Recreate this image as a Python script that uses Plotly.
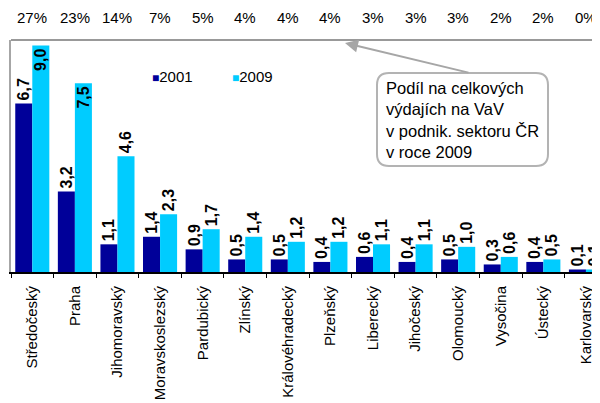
import plotly.graph_objects as go

categories = ["Středočeský", "Praha", "Jihomoravský", "Moravskoslezský", "Pardubický",
              "Zlínský", "Královéhradecký", "Plzeňský", "Liberecký", "Jihočeský",
              "Olomoucký", "Vysočina", "Ústecký", "Karlovarský"]
values_2001 = [6.7, 3.2, 1.1, 1.4, 0.9, 0.5, 0.5, 0.4, 0.6, 0.4, 0.5, 0.3, 0.4, 0.1]
values_2009 = [9.0, 7.5, 4.6, 2.3, 1.7, 1.4, 1.2, 1.2, 1.1, 1.1, 1.0, 0.6, 0.5, 0.1]
share_2009 = ["27%", "23%", "14%", "7%", "5%", "4%", "4%", "4%", "3%", "3%", "3%", "2%", "2%", "0%"]
series_names = ["2001", "2009"]
series_colors = ["#000099", "#00CCFF"]
note_text = "Podíl na celkových<br>výdajích na VaV<br>v podnik. sektoru ČR<br>v roce 2009"

OFF = 8  # default page body margin
W, H = 600 - OFF, 403 - OFF
# plot area in screen pixels
L, R, T, B = 11, 600, 40, 272
FONT = "Liberation Sans, Arial, sans-serif"


def px2x(px):
    return (px - L) / (R - L)


def py2y(py):
    return (B - py) / (B - T)


def fmt(v):
    return f"{v:.1f}".replace(".", ",")


fig = go.Figure()
for name, vals, col in zip(series_names, [values_2001, values_2009], series_colors):
    pos = ["inside" if (name == "2009" and v >= 7) else "outside" for v in vals]
    fig.add_trace(go.Bar(
        x=categories, y=vals, name=name, marker_color=col, marker_line_width=0,
        text=[fmt(v) for v in vals], textposition=pos, textangle=-90,
        insidetextanchor="end", constraintext="none", cliponaxis=False,
        textfont=dict(family=FONT, size=16, color="black", weight="bold"),
        showlegend=False,
    ))

annotations = []
for c, s in zip(categories, share_2009):
    annotations.append(dict(x=c, xref="x", y=py2y(18), yref="paper", text=s,
                            showarrow=False, xanchor="center", yanchor="middle",
                            font=dict(family=FONT, size=15, color="black")))
leg_x = [150, 230]
for name, col, lx in zip(series_names, series_colors, leg_x):
    annotations.append(dict(x=px2x(lx), y=py2y(76), xref="paper", yref="paper",
                            text=f"<span style='color:{col};font-size:12px'>■</span>{name}",
                            showarrow=False, xanchor="left", yanchor="middle",
                            font=dict(family=FONT, size=15, color="black")))
annotations.append(dict(x=px2x(345), y=py2y(43), xref="paper", yref="paper", text="",
                        showarrow=True, ax=470 - 345, ay=73 - 43, axref="pixel", ayref="pixel",
                        arrowhead=2, arrowsize=1.3, arrowwidth=2, arrowcolor="#a6a6a6"))
annotations.append(dict(x=px2x(384), y=py2y(77), xref="paper", yref="paper", text=note_text,
                        showarrow=False, xanchor="left", yanchor="top", align="left",
                        font=dict(family=FONT, size=16.5, color="black")))

x0, x1, y0, y1, r = 377, 548, 73, 166, 12
def P(px, py):
    return f"{px2x(px):.5f},{py2y(py):.5f}"
path = (f"M{P(x0 + r, y0)} L{P(x1 - r, y0)} Q{P(x1, y0)} {P(x1, y0 + r)} "
        f"L{P(x1, y1 - r)} Q{P(x1, y1)} {P(x1 - r, y1)} L{P(x0 + r, y1)} "
        f"Q{P(x0, y1)} {P(x0, y1 - r)} L{P(x0, y0 + r)} Q{P(x0, y0)} {P(x0 + r, y0)} Z")

shapes = [
    dict(type="line", xref="paper", yref="paper", x0=0, x1=1, y0=1, y1=1,
         line=dict(color="#999999", width=2)),
    dict(type="path", xref="paper", yref="paper", path=path,
         line=dict(color="#b3b3b3", width=2), fillcolor="white", layer="above"),
]

fig.update_layout(
    width=W, height=H,
    margin=dict(l=L - OFF, r=600 - R, t=T - OFF, b=403 - B, autoexpand=False),
    paper_bgcolor="white", plot_bgcolor="white",
    barmode="group", bargap=0.2, bargroupgap=0,
    font=dict(family=FONT, size=15, color="black"),
    annotations=annotations, shapes=shapes,
)
fig.update_xaxes(range=[-0.5, 13.33], tickangle=-90, showline=True, linecolor="black",
                 linewidth=2, ticks="outside", tickson="boundaries", ticklen=4,
                 tickcolor="black", tickwidth=1, showgrid=False, ticklabelstandoff=6,
                 automargin=False, tickfont=dict(family=FONT, size=15, color="black"))
fig.update_yaxes(range=[0, 9.22], showline=True, linecolor="#a6a6a6", linewidth=2,
                 showticklabels=False, ticks="", showgrid=False, zeroline=False,
                 automargin=False)

fig.write_html("out.html")
